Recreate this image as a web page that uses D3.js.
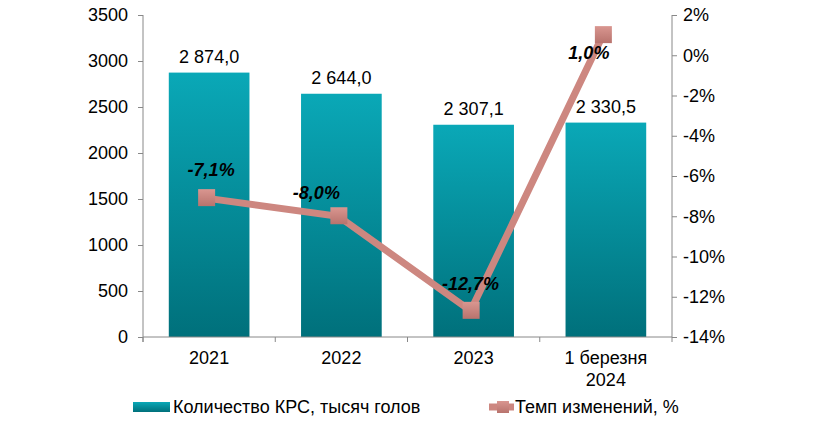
<!DOCTYPE html>
<html>
<head>
<meta charset="utf-8">
<script src="https://cdn.jsdelivr.net/npm/d3@7"></script>
<style>
  body { margin: 0; background: #fff; }
  text { font-family: Arial, "Liberation Sans", sans-serif; fill: #000; }
</style>
</head>
<body>
<svg id="chart" width="826" height="421"></svg>
<script>
// categories and series
var categories = ['2021', '2022', '2023', '1 березня|2024'];
var herd = [2874.0, 2644.0, 2307.1, 2330.5];
var change = [-7.1, -8.0, -12.7, 1.0];
var herdTicks = [0, 500, 1000, 1500, 2000, 2500, 3000, 3500];
var changeTicks = [2, 0, -2, -4, -6, -8, -10, -12, -14];

// hand placed offsets of the % labels (as in the original)
var pctLabelDx = [5, -22, 0, -14];
var pctLabelDy = [-22, -17, -21, 24];

var svg = d3.select('#chart');
var plotL = 143, plotR = 672, plotT = 15, plotB = 337;

var x = d3.scaleBand().domain(categories).range([plotL, plotR]).paddingInner(0.39).paddingOuter(0.195);
var xb = d3.scaleBand().domain(categories).range([plotL, plotR]);
var y = d3.scaleLinear().domain([0, 3500]).range([plotB, plotT]);
var y2 = d3.scaleLinear().domain([-14, 2]).range([plotB, plotT]);

// comma decimals, plain hyphen for minus
function fmt(v) { return v.toFixed(1).replace('.', ','); }
function fmtThousands(v) {
  var s = v.toFixed(1).split('.');
  return s[0].replace(/\B(?=(\d{3})+(?!\d))/g, ' ') + ',' + s[1];
}

var defs = svg.append('defs');
var grad = defs.append('linearGradient').attr('id', 'barGrad')
  .attr('x1', 0).attr('y1', 0).attr('x2', 0).attr('y2', 1);
grad.append('stop').attr('offset', '0%').attr('stop-color', '#0aa8b7');
grad.append('stop').attr('offset', '100%').attr('stop-color', '#00707b');

var mgrad = defs.append('linearGradient').attr('id', 'mGrad')
  .attr('x1', 0).attr('y1', 0).attr('x2', 0).attr('y2', 1);
mgrad.append('stop').attr('offset', '0%').attr('stop-color', '#d99690');
mgrad.append('stop').attr('offset', '100%').attr('stop-color', '#b8736d');

// bars
svg.selectAll('.bar').data(herd).enter().append('rect')
  .attr('x', function(d, i) { return x(categories[i]); })
  .attr('y', function(d) { return y(d); })
  .attr('width', x.bandwidth())
  .attr('height', function(d) { return plotB - y(d); })
  .attr('fill', 'url(#barGrad)');

// bar value labels
svg.selectAll('.vlab').data(herd).enter().append('text')
  .attr('x', function(d, i) { return x(categories[i]) + x.bandwidth() / 2; })
  .attr('y', function(d) { return y(d) - 10; })
  .attr('text-anchor', 'middle')
  .style('font-size', '18px')
  .text(fmtThousands);

// left axis
var axL = svg.append('g').attr('transform', 'translate(' + plotL + ',0)')
  .call(d3.axisLeft(y).tickValues(herdTicks).tickSize(5).tickPadding(10).tickFormat(function(d) { return String(d); }));
// right axis
var axR = svg.append('g').attr('transform', 'translate(' + plotR + ',0)')
  .call(d3.axisRight(y2).tickValues(changeTicks).tickSize(5).tickPadding(6)
    .tickFormat(function(d) { return d + '%'; }));
// x axis
var axX = svg.append('g').attr('transform', 'translate(0,' + plotB + ')');
axX.append('line').attr('x1', plotL).attr('x2', plotR).attr('stroke', '#888');
axX.selectAll('.tk').data(categories.concat(['end'])).enter().append('line')
  .attr('x1', function(d, i) { return plotL + i * xb.bandwidth(); })
  .attr('x2', function(d, i) { return plotL + i * xb.bandwidth(); })
  .attr('y1', 0).attr('y2', 5).attr('stroke', '#888');
axX.selectAll('.xl').data(categories).enter().append('text')
  .attr('text-anchor', 'middle')
  .style('font-size', '18px')
  .attr('x', function(d) { return xb(d) + xb.bandwidth() / 2; })
  .attr('y', 27)
  .each(function(d) {
    var parts = d.split('|');
    var t = d3.select(this);
    parts.forEach(function(p, k) {
      t.append('tspan').attr('x', xb(d) + xb.bandwidth() / 2).attr('dy', k ? 22 : 0).text(p);
    });
  });

[axL, axR].forEach(function(a) {
  a.selectAll('path, line').attr('stroke', '#888');
  a.select('.domain').attr('d', a === axL ? 'M0,' + plotT + 'V' + (plotB + 5) : 'M0,' + plotT + 'V' + plotB);
  a.selectAll('text').style('font-size', '18px').attr('fill', '#000');
});

// line series
var cx = function(d, i) { return xb(categories[i]) + xb.bandwidth() / 2 - 3; };
var line = d3.line().x(function(d, i) { return cx(d, i); }).y(function(d) { return y2(d); });
svg.append('path').datum(change).attr('d', line)
  .attr('fill', 'none').attr('stroke', '#cd8780').attr('stroke-width', 7);

svg.selectAll('.mk').data(change).enter().append('rect')
  .attr('x', function(d, i) { return cx(d, i) - 8; })
  .attr('y', function(d) { return y2(d) - 9; })
  .attr('width', 17).attr('height', 17)
  .attr('fill', 'url(#mGrad)');

svg.selectAll('.pl').data(change).enter().append('text')
  .attr('x', function(d, i) { return cx(d, i) + pctLabelDx[i]; })
  .attr('y', function(d, i) { return y2(d) + pctLabelDy[i]; })
  .attr('text-anchor', 'middle')
  .style('font-size', '18px').style('font-weight', 'bold').style('font-style', 'italic')
  .text(function(d) { return fmt(d) + '%'; });

// legend
var lg = svg.append('g').attr('transform', 'translate(0,407)');
lg.append('rect').attr('x', 133).attr('y', -5).attr('width', 37).attr('height', 10).attr('fill', 'url(#barGrad)');
lg.append('text').attr('x', 173).attr('y', 6).style('font-size', '18px').text('Количество КРС, тысяч голов');
lg.append('line').attr('x1', 489).attr('x2', 514).attr('y1', 0).attr('y2', 0)
  .attr('stroke', '#cd8780').attr('stroke-width', 7);
lg.append('rect').attr('x', 497).attr('y', -6).attr('width', 12).attr('height', 12).attr('fill', 'url(#mGrad)');
lg.append('text').attr('x', 515).attr('y', 6).style('font-size', '18px').text('Темп изменений, %');
</script>
</body>
</html>
